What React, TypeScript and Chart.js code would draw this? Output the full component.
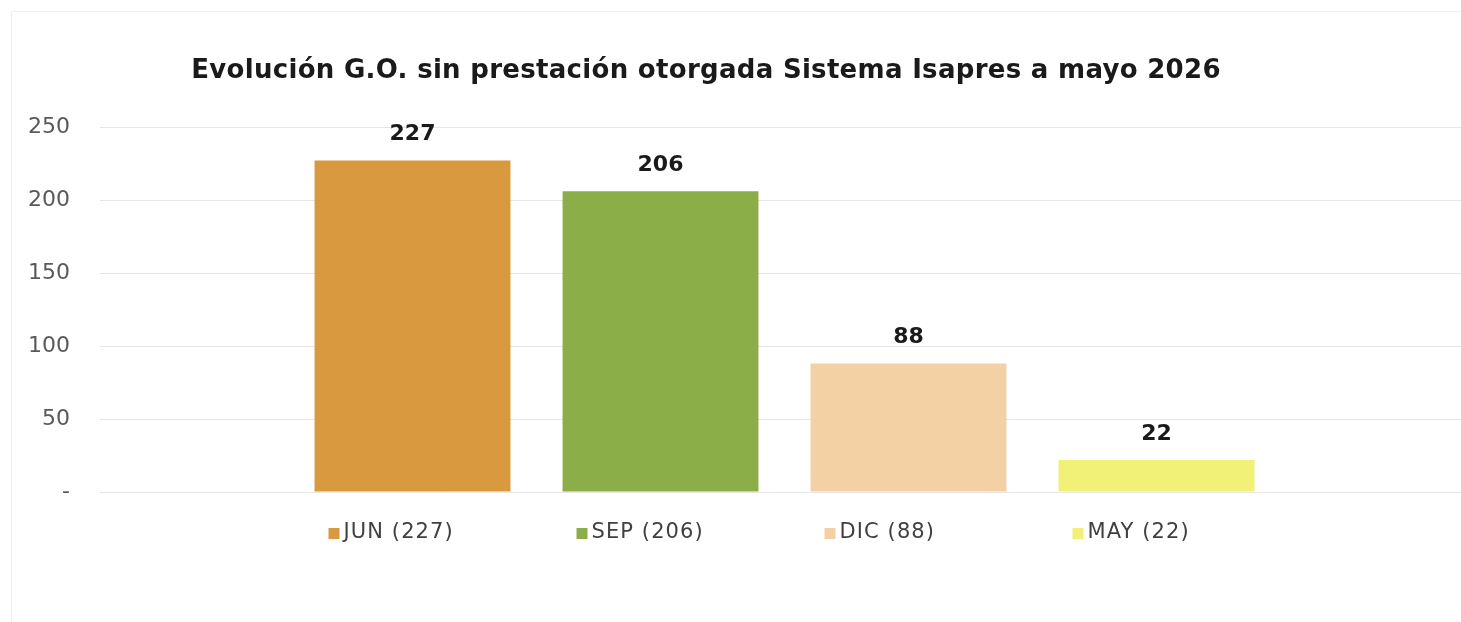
import React, { useEffect, useRef } from "react";
import { Chart, registerables } from "chart.js";

Chart.register(...registerables);

const TITLE = "Evolución G.O. sin prestación otorgada Sistema Isapres a mayo 2026";
const SERIES_NAMES = ["JUN", "SEP", "DIC", "MAY"];
const SERIES_VALUES = [227, 206, 88, 22];
const SERIES_COLORS = ["#D8993F", "#8BAE48", "#F3D1A4", "#F0F176"];
const Y_MIN = 0;
const Y_MAX = 250;
const Y_STEP = 50;

const FONT = "'DejaVu Sans', Verdana, sans-serif";

const decorPlugin = {
  id: "decor",
  beforeDraw(chart: any) {
    const ctx = chart.ctx;
    ctx.save();
    ctx.fillStyle = "#ffffff";
    ctx.fillRect(0, 0, chart.width, chart.height);
    ctx.strokeStyle = "#efefef";
    ctx.lineWidth = 1;
    ctx.beginPath();
    ctx.moveTo(11.5, chart.height);
    ctx.lineTo(11.5, 11.5);
    ctx.lineTo(chart.width, 11.5);
    ctx.stroke();
    ctx.restore();
  },
  afterDraw(chart: any) {
    const ctx = chart.ctx;
    ctx.save();
    // title
    ctx.font = `bold 26px ${FONT}`;
    (ctx as any).letterSpacing = "0.3px";
    ctx.fillStyle = "#1a1a1a";
    ctx.textAlign = "center";
    ctx.textBaseline = "alphabetic";
    ctx.fillText(TITLE, 706, 78);
    (ctx as any).letterSpacing = "0px";
    // value labels + legend
    chart.data.datasets.forEach((ds: any, i: number) => {
      const meta = chart.getDatasetMeta(i);
      const el = meta.data[0];
      if (!el) return;
      const v = ds.data[0];
      ctx.font = `bold 22px ${FONT}`;
      ctx.fillStyle = "#1a1a1a";
      ctx.textAlign = "center";
      ctx.textBaseline = "middle";
      (ctx as any).letterSpacing = "0px";
      ctx.fillText(String(v), el.x, el.y - 26);
      // legend item
      const lx = el.x - 84;
      const ly = 533;
      ctx.fillStyle = ds.backgroundColor;
      ctx.fillRect(lx, ly - 5, 11, 11);
      ctx.font = `21px ${FONT}`;
      (ctx as any).letterSpacing = "1.1px";
      ctx.fillStyle = "#404040";
      ctx.textAlign = "left";
      ctx.textBaseline = "middle";
      ctx.fillText(ds.label, lx + 15, ly);
      (ctx as any).letterSpacing = "0px";
    });
    ctx.restore();
  },
};

export default function App() {
  const ref = useRef<HTMLCanvasElement | null>(null);
  useEffect(() => {
    document.body.style.margin = "0";
    document.body.style.overflow = "hidden";
    const canvas = ref.current;
    if (!canvas) return;
    const chart = new Chart(canvas, {
      type: "bar",
      data: {
        labels: [""],
        datasets: SERIES_NAMES.map((n, i) => ({
          label: `${n} (${SERIES_VALUES[i]})`,
          data: [SERIES_VALUES[i]],
          backgroundColor: SERIES_COLORS[i],
          borderWidth: 0,
          categoryPercentage: 0.7246,
          barPercentage: 0.79,
        })),
      },
      options: {
        responsive: false,
        animation: false,
        layout: { padding: { top: 127, bottom: 130, left: 0, right: 0 } },
        plugins: {
          legend: { display: false },
          title: { display: false },
          tooltip: { enabled: false },
        },
        scales: {
          x: {
            display: false,
          },
          y: {
            min: Y_MIN,
            max: Y_MAX,
            afterFit: (s: any) => {
              s.width = 100;
            },
            ticks: {
              stepSize: Y_STEP,
              padding: 30,
              color: "#595959",
              font: { family: FONT, size: 22 },
              callback: (v: any) => (Number(v) === 0 ? "-" : String(v)),
            },
            grid: { color: "#e6e6e6", drawTicks: false, lineWidth: 1 },
            border: { display: false },
          },
        },
      },
      plugins: [decorPlugin],
    });
    return () => chart.destroy();
  }, []);
  return (
    <div style={{ width: 1461, height: 622, overflow: "hidden" }}>
      <canvas ref={ref} width={1469} height={622} style={{ display: "block" }} />
    </div>
  );
}
